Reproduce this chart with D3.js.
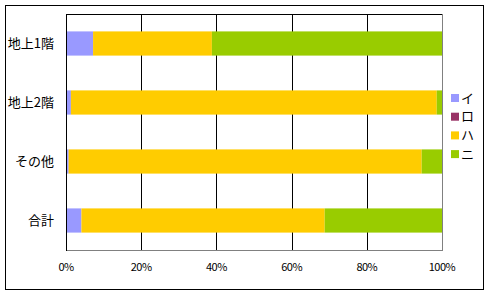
<!DOCTYPE html>
<html>
<head>
<meta charset="utf-8">
<script src="https://cdn.jsdelivr.net/npm/d3@7"></script>
<style>
  body { margin: 0; background: #fff; }
  text { font-family: "Noto Sans CJK JP", sans-serif; fill: #000; }
</style>
</head>
<body>
<div id="chart"></div>
<script>
var width = 490,
    height = 296;

var categories = ["地上1階", "地上2階", "その他", "合計"];
var seriesNames = ["イ", "ロ", "ハ", "ニ"];
var seriesI = [7.2, 1.3, 0.7, 4.1];
var seriesRo = [0, 0, 0, 0];
var seriesHa = [31.6, 97.3, 93.9, 64.7];
var seriesNi = [61.2, 1.4, 5.4, 31.2];
var tickValues = [0, 20, 40, 60, 80, 100];
var colors = ["#9999ff", "#993366", "#ffcc00", "#99cc00"];

var rows = categories.map(function(c, i) {
  return { cat: c, "イ": seriesI[i], "ロ": seriesRo[i], "ハ": seriesHa[i], "ニ": seriesNi[i] };
});

var plot = { left: 66, right: 442, top: 14, bottom: 250 };

var svg = d3.select("#chart").append("svg")
    .attr("width", width)
    .attr("height", height);

// outer frame
svg.append("rect")
    .attr("x", 5.5).attr("y", 5.5)
    .attr("width", 478).attr("height", 284)
    .attr("fill", "#fff")
    .attr("stroke", "#000");

var x = d3.scaleLinear().domain([0, 100]).range([plot.left, plot.right]);
var y = d3.scaleBand().domain(categories)
    .range([plot.top, plot.bottom])
    .paddingInner(0.59).paddingOuter(0.295);

// gridlines
svg.selectAll("line.grid")
    .data(tickValues.slice(1, -1))
  .enter().append("line")
    .attr("class", "grid")
    .attr("x1", function(d) { return Math.round(x(d)) + 0.5; })
    .attr("x2", function(d) { return Math.round(x(d)) + 0.5; })
    .attr("y1", plot.top).attr("y2", plot.bottom)
    .attr("stroke", "#000");

var stack = d3.stack().keys(seriesNames)(rows);

svg.selectAll("g.series")
    .data(stack)
  .enter().append("g")
    .attr("class", "series")
    .attr("fill", function(d, i) { return colors[i]; })
  .selectAll("rect")
    .data(function(d) { return d; })
  .enter().append("rect")
    .attr("x", function(d) { return x(d[0]); })
    .attr("width", function(d) { return x(d[1]) - x(d[0]); })
    .attr("y", function(d) { return y(d.data.cat); })
    .attr("height", y.bandwidth());

// plot border: top/left black, right/bottom gray
svg.append("line").attr("x1", plot.left).attr("x2", plot.right + 0.5)
    .attr("y1", plot.top + 0.5).attr("y2", plot.top + 0.5).attr("stroke", "#000");
svg.append("line").attr("x1", plot.right + 0.5).attr("x2", plot.right + 0.5)
    .attr("y1", plot.top + 1).attr("y2", plot.bottom).attr("stroke", "#808080");
svg.append("line").attr("x1", plot.left).attr("x2", plot.right + 1)
    .attr("y1", plot.bottom + 0.5).attr("y2", plot.bottom + 0.5).attr("stroke", "#808080");
svg.append("line").attr("x1", plot.left + 0.5).attr("x2", plot.left + 0.5)
    .attr("y1", plot.top).attr("y2", plot.bottom + 1).attr("stroke", "#000");

// category labels
svg.selectAll("text.cat")
    .data(categories)
  .enter().append("text")
    .attr("class", "cat")
    .attr("x", 54)
    .attr("y", function(d) { return y(d) + y.bandwidth() / 2; })
    .attr("dy", "0.35em")
    .attr("text-anchor", "end")
    .style("font-size", "13px")
    .text(function(d) { return d; });

// x tick labels
svg.selectAll("text.tick")
    .data(tickValues)
  .enter().append("text")
    .attr("class", "tick")
    .attr("x", function(d) { return x(d); })
    .attr("y", 267)
    .attr("dy", "0.35em")
    .attr("text-anchor", "middle")
    .style("font-size", "11px")
    .style("letter-spacing", "-0.5px")
    .text(function(d) { return d + "%"; });

// legend
var legend = svg.selectAll("g.legend")
    .data(seriesNames)
  .enter().append("g")
    .attr("class", "legend")
    .attr("transform", function(d, i) { return "translate(451," + (94 + i * 18.7) + ")"; });

legend.append("rect")
    .attr("width", 8).attr("height", 8)
    .attr("fill", function(d, i) { return colors[i]; });

legend.append("text")
    .attr("x", 10).attr("y", 4)
    .attr("dy", "0.35em")
    .style("font-size", "13px")
    .text(function(d) { return d; });
</script>
</body>
</html>
